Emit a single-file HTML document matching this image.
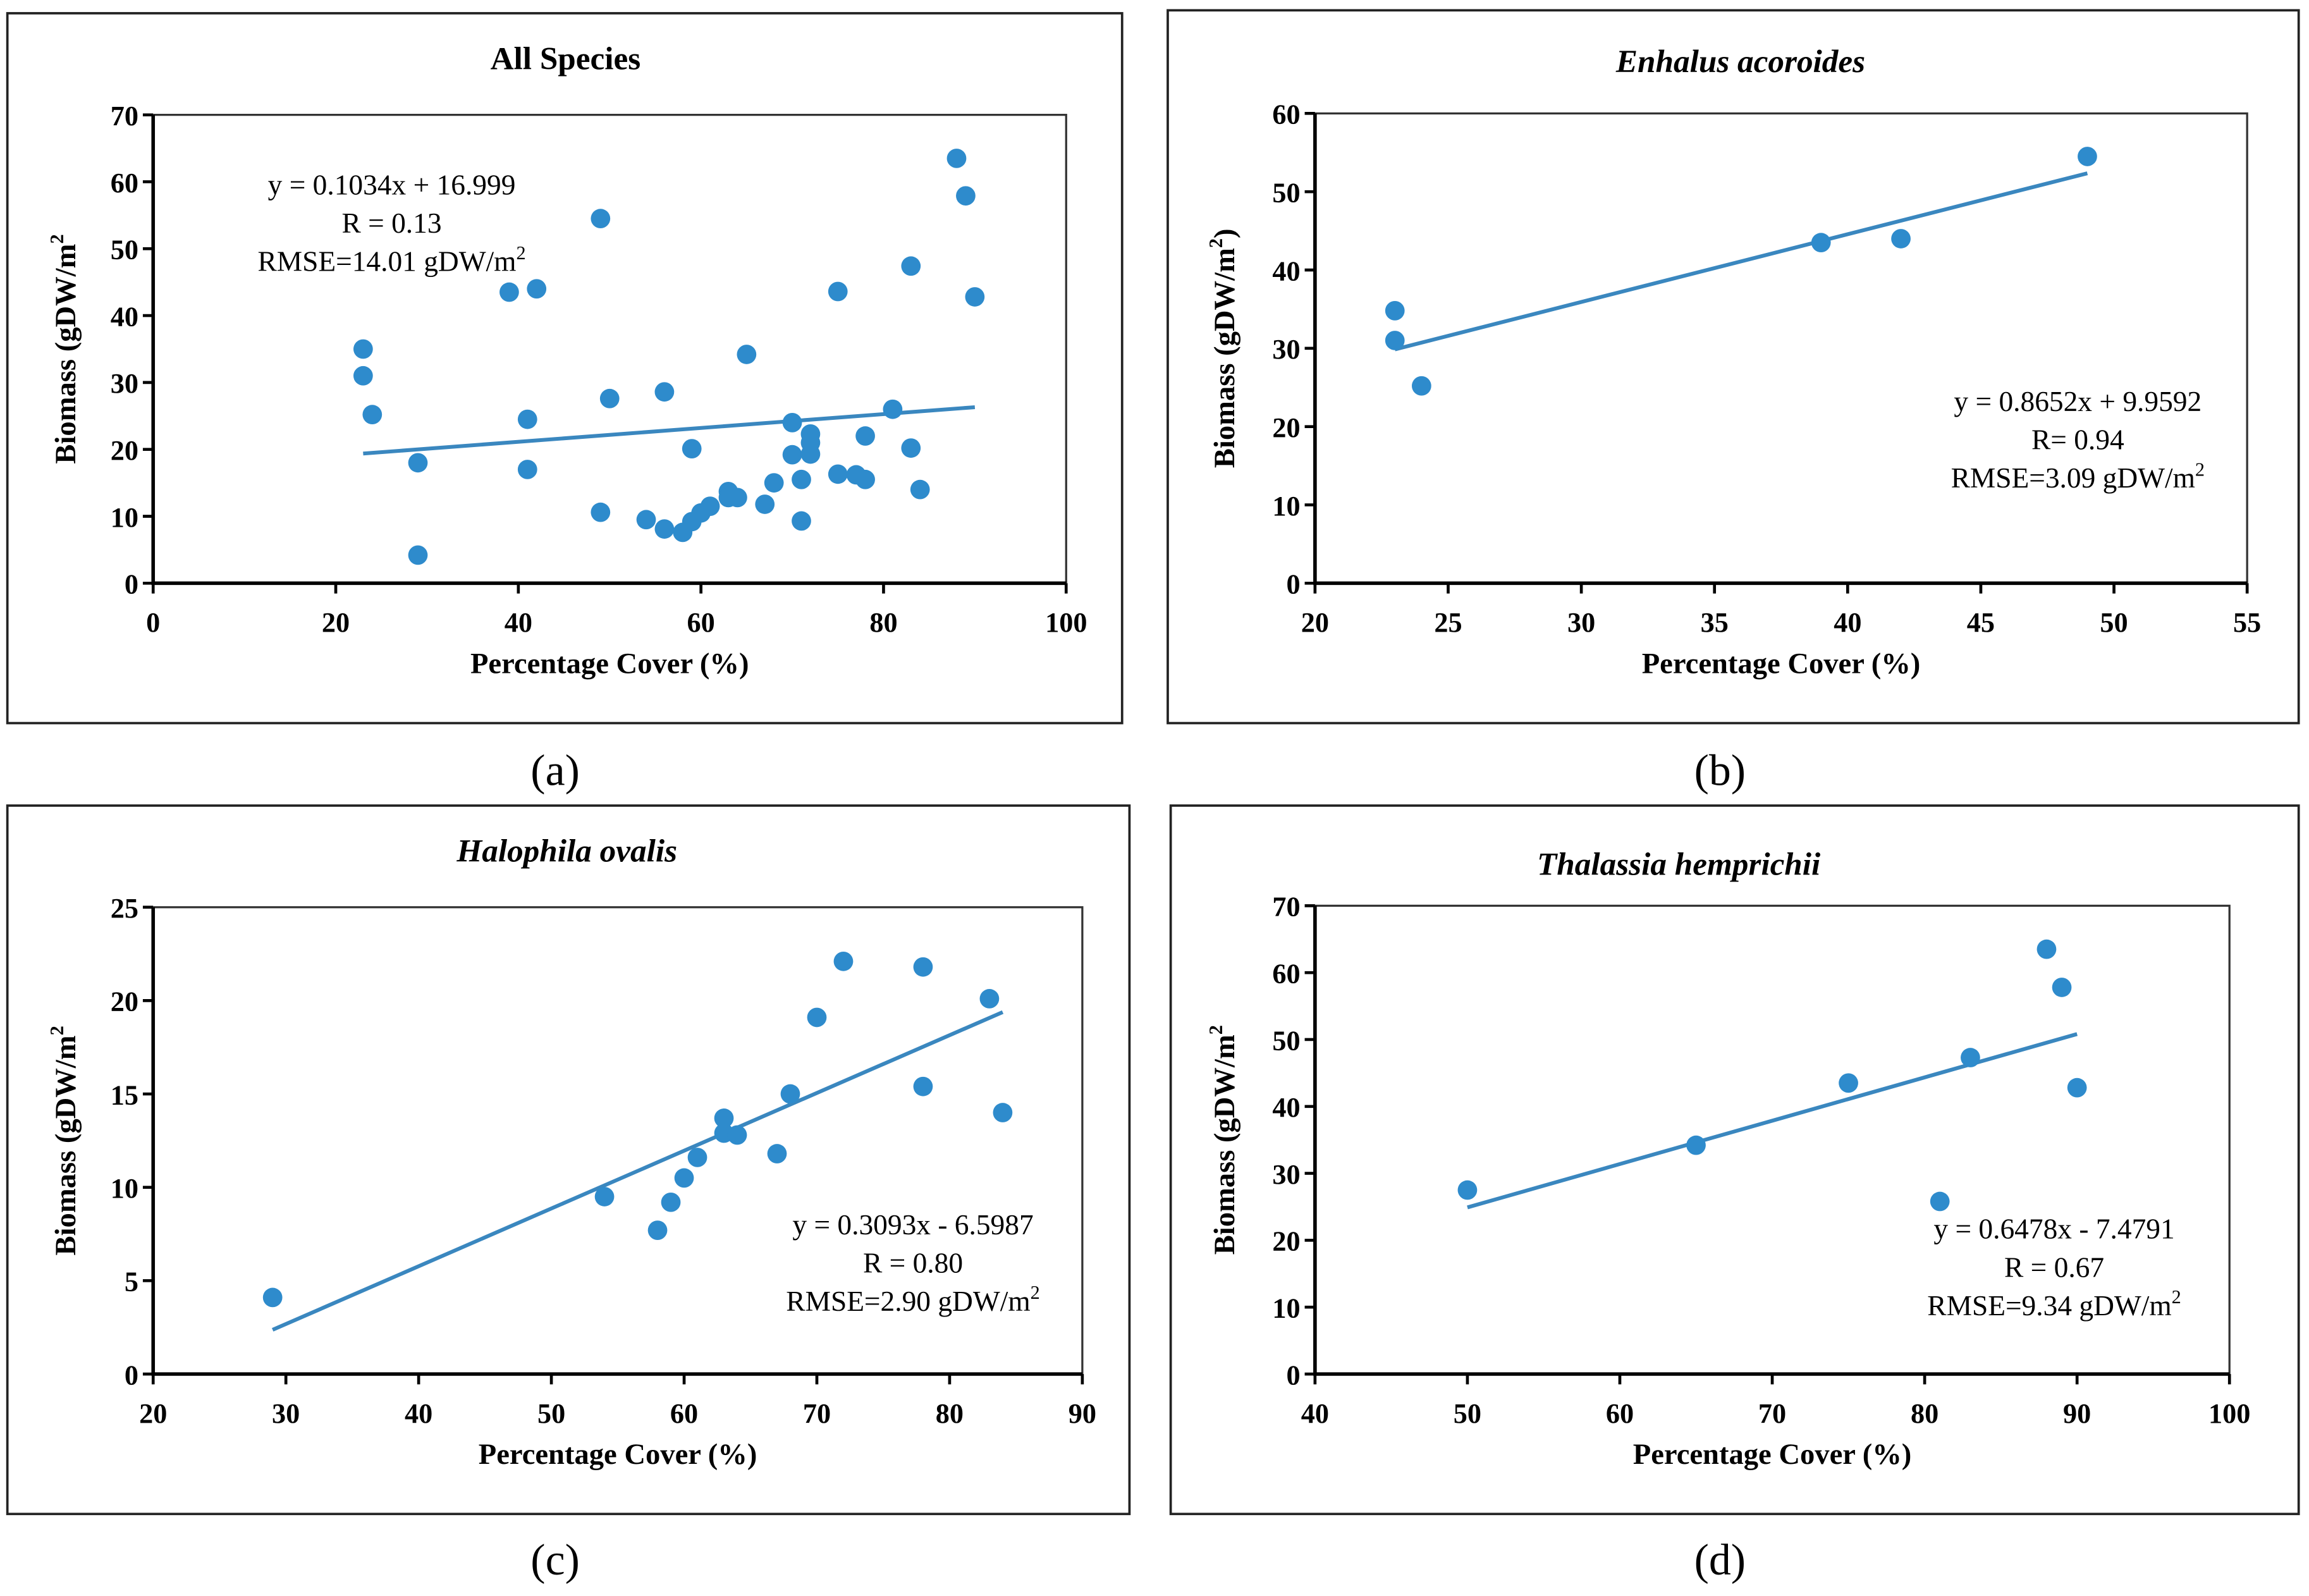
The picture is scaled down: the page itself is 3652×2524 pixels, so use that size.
<!DOCTYPE html>
<html><head><meta charset="utf-8"><title>Biomass vs Percentage Cover</title>
<style>
html,body{margin:0;padding:0;background:#fff;}
svg{display:block;}
text{font-family:"Liberation Serif",serif;fill:#000;}
.tick{font-size:19px;font-weight:bold;}
.axt{font-size:20px;font-weight:bold;}
.ttl{font-size:22px;font-weight:bold;}
.eq{font-size:19.5px;}
.lab{font-size:30px;}
</style></head>
<body>
<svg id="fig" xmlns="http://www.w3.org/2000/svg" width="3652" height="2524" viewBox="0 0 1568 1083.7">
<rect x="0" y="0" width="1568" height="1083.7" fill="#fff"/>
</svg>
<script>
// Panel (a) All Species
const aX = [23,23,24,29,29,39,41,41,42,49,49,50,54,56,56,58,59,59,60,61,63,63,64,65,67,68,70,70,71,71,72,72,72,75,75,77,78,78,81,83,83,84,88,89,90];
const aY = [35,31,25.2,18,4.2,43.5,24.5,17,44,54.5,10.6,27.6,9.5,28.6,8.1,7.6,9.2,20.1,10.5,11.5,13.7,12.8,12.8,34.2,11.8,15,24,19.2,15.5,9.3,22.3,21,19.3,43.6,16.3,16.2,22,15.5,26,47.4,20.2,14,63.5,57.9,42.8];
const aXTicks = [0,20,40,60,80,100];
const aYTicks = [0,10,20,30,40,50,60,70];
const aFit = [0.1034,16.999,23,90];
// Panel (b) Enhalus acoroides
const bX = [23,23,24,39,42,49];
const bY = [34.8,31,25.2,43.5,44,54.5];
const bXTicks = [20,25,30,35,40,45,50,55];
const bYTicks = [0,10,20,30,40,50,60];
const bFit = [0.8652,9.9592,23,49];
// Panel (c) Halophila ovalis
const cX = [29,54,58,59,60,61,63,63,64,67,68,70,72,78,78,83,84];
const cY = [4.1,9.5,7.7,9.2,10.5,11.6,13.7,12.9,12.8,11.8,15,19.1,22.1,21.8,15.4,20.1,14];
const cXTicks = [20,30,40,50,60,70,80,90];
const cYTicks = [0,5,10,15,20,25];
const cFit = [0.3093,-6.5987,29,84];
// Panel (d) Thalassia hemprichii
const dX = [50,65,75,81,83,88,89,90];
const dY = [27.5,34.2,43.5,25.8,47.3,63.5,57.8,42.8];
const dXTicks = [40,50,60,70,80,90,100];
const dYTicks = [0,10,20,30,40,50,60,70];
const dFit = [0.6478,-7.4791,50,90];

const NS = "http://www.w3.org/2000/svg";
const svg = document.getElementById('fig');
function mk(tag, attrs, parent){
  const e = document.createElementNS(NS, tag);
  for (const k in attrs) e.setAttribute(k, attrs[k]);
  (parent||svg).appendChild(e);
  return e;
}
function txt(parent, x, y, s, cls, anchor){
  const t = mk('text', {x:x, y:y, 'class':cls, 'text-anchor':anchor||'middle'}, parent);
  t.textContent = s;
  return t;
}

function panel(cfg){
  const g = mk('g', {});
  
  
  const frame = mk('rect', {x:cfg.box[0], y:cfg.box[1], width:cfg.box[2]-cfg.box[0], height:cfg.box[3]-cfg.box[1], fill:'none', stroke:'#222', 'stroke-width':1.6}, g);
  
  
  const [px0, px1, py0, py1] = cfg.plot; // pixel: left,right,bottom,top
  const xs = v => px0 + (v - cfg.xd[0]) / (cfg.xd[1] - cfg.xd[0]) * (px1 - px0);
  const ys = v => py0 - (v - cfg.yd[0]) / (cfg.yd[1] - cfg.yd[0]) * (py0 - py1);
  // plot frame
  const top = mk('path', {d:`M${px0},${py1}H${px1}V${py0}`, fill:'none', stroke:'#333', 'stroke-width':1.4}, g);
  
  
  const ax = mk('path', {d:`M${px0},${py1}V${py0}H${px1}`, fill:'none', stroke:'#000', 'stroke-width':2.4}, g);
  
  
  // y ticks
  cfg.yt.forEach(v => {
    const y = ys(v);
    const l = mk('line', {x1:px0-7, x2:px0, y1:y, y2:y, stroke:'#000', 'stroke-width':2}, g);
    
    
    const t = txt(g, px0-10, y+7, String(v), 'tick', 'end');
    
    
  });
  cfg.xt.forEach(v => {
    const x = xs(v);
    const l = mk('line', {x1:x, x2:x, y1:py0, y2:py0+7, stroke:'#000', 'stroke-width':2}, g);
    
    
    const t = txt(g, x, py0+33, String(v), 'tick');
    
    
  });
  // trend line
  const f = cfg.fit;
  const tl = mk('line', {x1:xs(f[2]), y1:ys(f[0]*f[2]+f[1]), x2:xs(f[3]), y2:ys(f[0]*f[3]+f[1]), stroke:'#3a87bf', 'stroke-width':2.6}, g);
  
  
  // points
  cfg.X.forEach((xv, i) => {
    const c = mk('circle', {cx:xs(xv), cy:ys(cfg.Y[i]), r:6.6, fill:'#2e8bcc'}, g);
    
    
  });
  // titles
  const tt = txt(g, cfg.title[1], cfg.title[2], cfg.title[0], 'ttl');
  if (cfg.italic) tt.setAttribute('font-style', 'italic');
  
  
  const xa = txt(g, (px0+px1)/2, py0+61, 'Percentage Cover (%)', 'axt');
  
  
  const ya = mk('text', {x:0, y:0, 'class':'axt', 'text-anchor':'middle', transform:`translate(${cfg.ylx},${(py0+py1)/2}) rotate(-90)`}, g);
  ya.textContent = cfg.ylab;
  const sup = mk('tspan', {'font-size':'13', dy:'-8'}, ya);
  sup.textContent = '2';
  if (cfg.ylabClose) { const cl = mk('tspan', {dy:'8'}, ya); cl.textContent = ')'; }
  
  
  // equation
  const eqg = mk('g', {}, g);
  
  
  txt(eqg, cfg.eq[0], cfg.eq[1], cfg.eqLines[0], 'eq');
  txt(eqg, cfg.eq[0], cfg.eq[1]+26, cfg.eqLines[1], 'eq');
  const r = txt(eqg, cfg.eq[0], cfg.eq[1]+52, cfg.eqLines[2], 'eq');
  const s2 = mk('tspan', {'font-size':'13', dy:'-8'}, r);
  s2.textContent = '2';
  // panel label
  const pl = txt(svg, cfg.lab[1], cfg.lab[2], cfg.lab[0], 'lab');
  
  
}

panel({name:'panel-a-all-species', box:[5,9,762,491], plot:[104,724,396,78], xd:[0,100], yd:[0,70],
  xt:aXTicks, yt:aYTicks, X:aX, Y:aY, fit:aFit, title:['All Species',384,47], italic:false,
  ylab:'Biomass (gDW/m', ylx:51, eq:[266,132], eqLines:['y = 0.1034x + 16.999','R = 0.13','RMSE=14.01 gDW/m'], lab:['(a)',377,533]});
panel({name:'panel-b-enhalus-acoroides', box:[793,7,1561,491], plot:[893,1526,396,77], xd:[20,55], yd:[0,60],
  xt:bXTicks, yt:bYTicks, X:bX, Y:bY, fit:bFit, title:['Enhalus acoroides',1182,49], italic:true,
  ylab:'Biomass (gDW/m', ylabClose:true, ylx:838, eq:[1411,279], eqLines:['y = 0.8652x + 9.9592','R= 0.94','RMSE=3.09 gDW/m'], lab:['(b)',1168,533]});
panel({name:'panel-c-halophila-ovalis', box:[5,547,767,1028], plot:[104,735,933,616], xd:[20,90], yd:[0,25],
  xt:cXTicks, yt:cYTicks, X:cX, Y:cY, fit:cFit, title:['Halophila ovalis',385,585], italic:true,
  ylab:'Biomass (gDW/m', ylx:51, eq:[620,838], eqLines:['y = 0.3093x - 6.5987','R = 0.80','RMSE=2.90 gDW/m'], lab:['(c)',377,1069]});
panel({name:'panel-d-thalassia-hemprichii', box:[795,547,1561,1028], plot:[893,1514,933,615], xd:[40,100], yd:[0,70],
  xt:dXTicks, yt:dYTicks, X:dX, Y:dY, fit:dFit, title:['Thalassia hemprichii',1140,594], italic:true,
  ylab:'Biomass (gDW/m', ylx:838, eq:[1395,841], eqLines:['y = 0.6478x - 7.4791','R = 0.67','RMSE=9.34 gDW/m'], lab:['(d)',1168,1069]});
</script>
</body></html>
